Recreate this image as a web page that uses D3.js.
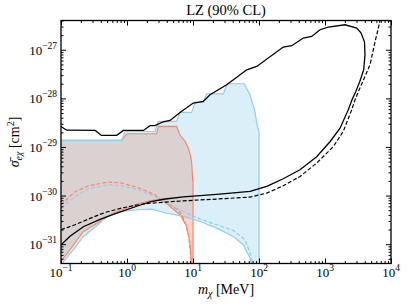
<!DOCTYPE html>
<html>
<head>
<meta charset="utf-8">
<script src="https://cdn.jsdelivr.net/npm/d3@7"></script>
<style>
body { margin: 0; background: #fff; }
svg text { font-family: "Liberation Serif", "Times New Roman", serif; fill: #000; }
</style>
</head>
<body>
<svg width="407" height="304"></svg>
<script>
// values: mass in MeV, cross section in cm^2

const title = "LZ (90% CL)";
const xTickExps = [-1, 0, 1, 2, 3, 4];
const yTickExps = [-31, -30, -29, -28, -27];

// black solid contour (lower branch -> right side -> upper branch)
const blackSolid = [
  [0.1, 9.7e-32], [0.137, 1.46e-31], [0.218, 2.28e-31], [0.39, 3.25e-31], [0.70, 4.33e-31],
  [1.48, 6.17e-31], [2.23, 7.45e-31], [3.55, 8.4e-31], [7.13, 9.44e-31], [22.9, 1.06e-30],
  [73.1, 1.22e-30], [131, 1.55e-30], [233, 2.22e-30], [418, 3.40e-30], [748, 6.28e-30],
  [1190, 1.28e-29], [1690, 2.43e-29], [2254, 5.82e-29], [2565, 9.35e-29], [2917, 1.37e-28],
  [3357, 2.20e-28], [3857, 3.87e-28], [4036, 7.89e-28], [3966, 1.46e-27], [3510, 2.24e-27],
  [3020, 2.80e-27], [2010, 3.27e-27],
  [1120, 2.93e-27], [840, 2.58e-27], [628, 1.88e-27], [469, 1.74e-27], [313, 1.21e-27],
  [233, 1.14e-27], [92.3, 4.53e-28], [65.2, 3.87e-28], [32.4, 1.91e-28], [18.1, 1.19e-28],
  [14.3, 8.63e-29], [10.1, 8.0e-29], [6.35, 5.13e-29], [4.49, 3.51e-29], [3.55, 3.30e-29],
  [2.65, 2.74e-29], [2.23, 2.74e-29], [1.77, 2.19e-29], [0.88, 2.19e-29], [0.70, 1.73e-29],
  [0.41, 1.73e-29], [0.33, 2.19e-29], [0.122, 2.21e-29], [0.1, 2.63e-29]
];

const blackDashed = [
  [0.1, 1.98e-31], [0.163, 2.51e-31], [0.26, 3.28e-31], [0.465, 4.49e-31], [0.83, 5.53e-31],
  [1.48, 6.47e-31], [2.23, 6.95e-31], [7.13, 7.8e-31], [22.9, 8.47e-31], [73.1, 9.31e-31],
  [131, 1.12e-30], [233, 1.59e-30], [418, 2.47e-30], [748, 4.67e-30], [1340, 1.02e-29],
  [1890, 2.08e-29], [2541, 5.82e-29], [2851, 9.35e-29], [3200, 1.37e-28], [3722, 2.20e-28],
  [4808, 4.91e-28], [5730, 1.46e-27], [6430, 2.80e-27], [6808, 4.14e-27], [7050, 5.25e-27]
];

// blue (skyblue) excluded region
const blueUpper = [
  [0.1, 1.36e-29], [0.83, 1.36e-29], [0.93, 2.08e-29], [2.65, 2.08e-29], [2.98, 3.35e-29],
  [5.66, 3.35e-29], [6.35, 5.13e-29], [9.55, 5.13e-29], [10.7, 8.24e-29], [14.3, 8.24e-29],
  [16.1, 1.24e-28], [28.8, 1.24e-28], [33.1, 2.0e-28], [59.3, 2.0e-28], [73.1, 1.19e-28],
  [86.9, 5.37e-29], [92.3, 3.10e-29], [100, 2.08e-29], [100, 3e-32]
];
const blueLower = [
  [0.1, 3.8e-32], [0.153, 7.67e-32], [0.218, 1.44e-31], [0.39, 2.72e-31], [0.465, 3.66e-31],
  [0.62, 4.23e-31], [0.83, 4.71e-31], [1.48, 5.10e-31], [2.37, 5.27e-31], [3.77, 4.43e-31],
  [7.13, 3.72e-31], [12.8, 2.93e-31], [22.9, 2.14e-31], [40.8, 1.44e-31], [57.8, 9.73e-32],
  [73.1, 5.18e-32], [78.3, 3.5e-32]
];
const blueDashed = [
  [0.1, 5.61e-31], [0.163, 9.44e-31], [0.26, 1.38e-30], [0.52, 1.67e-30], [0.83, 1.59e-30],
  [1.48, 1.31e-30], [2.65, 9.57e-31], [3.77, 7.45e-31], [7.13, 4.65e-31], [12.8, 3.28e-31],
  [22.9, 2.51e-31], [40.8, 1.91e-31], [61.4, 1.23e-31], [73.1, 6.56e-32], [82.6, 3.5e-32]
];

// orange (salmon) excluded region
const orangeUpper = [
  [0.1, 1.36e-29], [0.83, 1.36e-29], [1.0, 1.87e-29], [2.82, 1.87e-29], [2.98, 2.64e-29],
  [5.66, 2.64e-29], [6.35, 1.76e-29], [7.57, 1.30e-29], [8.5, 9.48e-30], [9.23, 6.38e-30],
  [9.55, 4.67e-30], [9.88, 2.11e-30], [10, 2.11e-30], [10, 3e-32]
];
const orangeLower = [
  [0.1, 4.4e-32], [0.137, 7.67e-32], [0.218, 1.82e-31], [0.39, 2.93e-31], [0.62, 4.36e-31],
  [1.57, 7.02e-31], [2.65, 8.2e-31], [3.55, 7.8e-31], [4.49, 5.97e-31], [6.35, 4.03e-31],
  [8.04, 2.31e-31], [9.02, 1.05e-31], [9.55, 3.5e-32]
];
const orangeDashed = [
  [0.1, 6.47e-31], [0.163, 1.20e-30], [0.26, 1.59e-30], [0.52, 1.90e-30], [0.83, 1.81e-30],
  [1.48, 1.45e-30], [2.65, 1.04e-30], [3.55, 7.57e-31], [5.04, 5.97e-31], [6.35, 4.65e-31],
  [7.57, 2.89e-31], [8.69, 1.36e-31], [9.49, 3.5e-32]
];

const blue = "#8fcfea", orange = "#f9876c";

const svg = d3.select("svg");
const plotLeft = 61, plotRight = 391, plotTop = 20.5, plotBottom = 263.5;

const x = d3.scaleLog().domain([0.1, 1e4]).range([plotLeft, plotRight]);
const y = d3.scaleLog().domain([4e-32, 4e-27]).range([plotBottom, plotTop]);

const line = d3.line().x(d => x(d[0])).y(d => y(d[1]));

const defs = svg.append("defs");
defs.append("clipPath").attr("id", "plot")
  .append("rect").attr("x", plotLeft).attr("y", plotTop)
  .attr("width", plotRight - plotLeft).attr("height", plotBottom - plotTop);

const blueRegion = blueUpper.concat(blueLower.slice().reverse());
const orangeRegion = orangeUpper.concat(orangeLower.slice().reverse());

defs.append("clipPath").attr("id", "blueClip")
  .append("path").attr("d", line(blueRegion) + "Z");

const chart = svg.append("g").attr("clip-path", "url(#plot)");

// fills
chart.append("path").attr("d", line(blueRegion) + "Z").attr("fill", "#daeff8");
chart.append("path").attr("d", line(orangeRegion) + "Z").attr("fill", "#fdd5cb");
chart.append("path").attr("d", line(orangeRegion) + "Z").attr("fill", "#d9d2d0")
  .attr("clip-path", "url(#blueClip)");

// colored lines
function stroke(data, color, width, dash) {
  chart.append("path").attr("d", line(data)).attr("fill", "none")
    .attr("stroke", color).attr("stroke-width", width)
    .attr("stroke-dasharray", dash || null);
}
stroke(orangeUpper, orange, 1.2);
stroke(orangeLower, orange, 1.2);
stroke(blueUpper, blue, 1.2);
stroke(blueLower, blue, 1.2);
stroke(orangeDashed, orange, 1.2, "4,2");
stroke(blueDashed, blue, 1.2, "4,2");

// black lines
stroke(blackDashed, "#000", 1.2, "4,2");
stroke(blackSolid, "#000", 1.3);

// axes, ticks pointing inward on all four sides
const isDecade = v => Math.abs(Math.log10(v) - Math.round(Math.log10(v))) < 1e-6;
const xMajor = xTickExps.map(e => Math.pow(10, e));
const yMajor = yTickExps.map(e => Math.pow(10, e));
const xMinor = x.ticks().filter(v => !isDecade(v));
const yMinor = y.ticks().filter(v => !isDecade(v));

function ticks(axis, g, major, minor) {
  g.call(axis.tickValues(major).tickSize(-5).tickFormat(""));
  const m = g.append("g");
  m.call(axis.tickValues(minor).tickSize(-2.5).tickFormat(""));
  g.selectAll(".domain").remove();
  g.selectAll("line").attr("stroke", "#000").attr("stroke-width", 1);
}
ticks(d3.axisBottom(x), svg.append("g").attr("transform", `translate(0,${plotBottom})`), xMajor, xMinor);
ticks(d3.axisTop(x), svg.append("g").attr("transform", `translate(0,${plotTop})`), xMajor, xMinor);
ticks(d3.axisLeft(y), svg.append("g").attr("transform", `translate(${plotLeft},0)`), yMajor, yMinor);
ticks(d3.axisRight(y), svg.append("g").attr("transform", `translate(${plotRight},0)`), yMajor, yMinor);

svg.append("rect").attr("x", plotLeft).attr("y", plotTop)
  .attr("width", plotRight - plotLeft).attr("height", plotBottom - plotTop)
  .attr("fill", "none").attr("stroke", "#000").attr("stroke-width", 1.3);

// tick labels
xTickExps.forEach(e => {
  const t = svg.append("text").attr("x", x(Math.pow(10, e))).attr("y", 277)
    .attr("text-anchor", "middle").attr("font-size", 13);
  t.append("tspan").text("10");
  t.append("tspan").attr("dy", -6).attr("font-size", 9.5).text(String(e).replace("-", "\u2212"));
});
yTickExps.forEach(e => {
  const t = svg.append("text").attr("x", 57).attr("y", y(Math.pow(10, e)) + 5)
    .attr("text-anchor", "end").attr("font-size", 13);
  t.append("tspan").text("10");
  t.append("tspan").attr("dy", -6).attr("font-size", 9.5).text(String(e).replace("-", "\u2212"));
});

// title and axis labels
svg.append("text").attr("x", (plotLeft + plotRight) / 2).attr("y", 15)
  .attr("text-anchor", "middle").attr("font-size", 14.5).text(title);

const xl = svg.append("text").attr("x", (plotLeft + plotRight) / 2).attr("y", 294)
  .attr("text-anchor", "middle").attr("font-size", 14);
xl.append("tspan").attr("font-style", "italic").text("m");
xl.append("tspan").attr("dy", 3).attr("font-size", 10).attr("font-style", "italic").text("\u03c7");
xl.append("tspan").attr("dy", -3).text(" [MeV]");

const yl = svg.append("text")
  .attr("transform", `translate(19,${(plotTop + plotBottom) / 2}) rotate(-90)`)
  .attr("text-anchor", "middle").attr("font-size", 14);
yl.append("tspan").attr("font-style", "italic").text("\u03c3\u0304");
yl.append("tspan").attr("dy", 3).attr("font-size", 10).attr("font-style", "italic").text("e\u03c7");
yl.append("tspan").attr("dy", -3).text(" [cm");
yl.append("tspan").attr("dy", -5).attr("font-size", 10).text("2");
yl.append("tspan").attr("dy", 5).text("]");
</script>
</body>
</html>
